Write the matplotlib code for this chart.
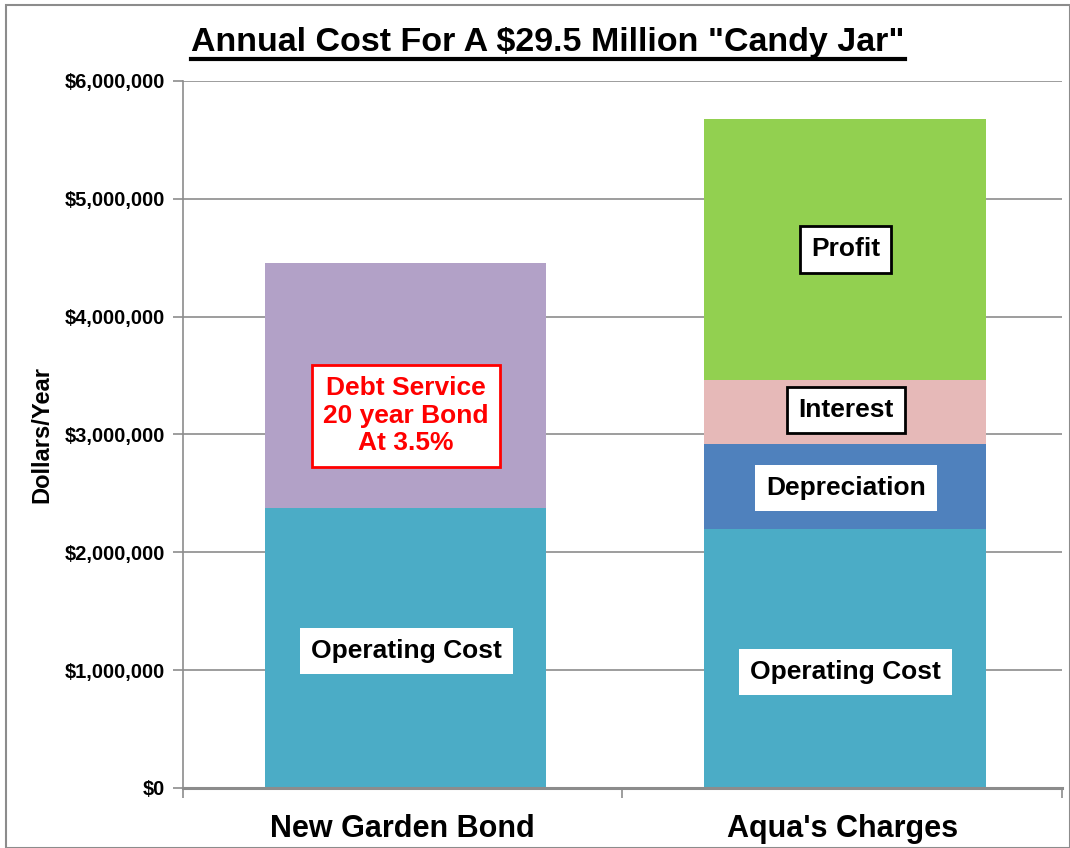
import matplotlib.pyplot as plt
import matplotlib.ticker as mticker
from matplotlib.lines import Line2D
from matplotlib.patches import Rectangle

plt.rcParams['font.family'] = ['Liberation Sans', 'DejaVu Sans']
plt.rcParams['font.weight'] = 'bold'

categories = ["New Garden Bond", "Aqua's Charges"]
operating = [2375000, 2195000]
debt_service = [2080000, 0]
depreciation = [0, 720000]
interest = [0, 545000]
profit = [0, 2215000]

colors = {'op': '#4BACC6', 'debt': '#B2A1C7', 'dep': '#4F81BD',
          'int': '#E6B9B8', 'prof': '#92D050'}

fig = plt.figure(figsize=(10.7, 8.48), dpi=100)
ax = fig.add_axes([0.171, 0.0708, 0.8215, 0.8337])

x = [0, 1]
w = 0.64
b = [0, 0]
for vals, c in [(operating, colors['op']), (debt_service, colors['debt']),
                (depreciation, colors['dep']), (interest, colors['int']),
                (profit, colors['prof'])]:
    ax.bar([xi + 0.006 for xi in x], vals, w, bottom=b, color=c, zorder=2)
    b = [bi + vi for bi, vi in zip(b, vals)]

ax.set_xlim(-0.5, 1.5)
ax.set_ylim(0, 6000000)
ax.yaxis.set_major_locator(mticker.MultipleLocator(1000000))
ax.yaxis.set_major_formatter(mticker.FuncFormatter(lambda v, p: f"${v:,.0f}"))
ax.grid(axis='y', color='#8c8c8c', lw=1.2, zorder=0)
ax.set_xticks([0, 1])
ax.set_xticklabels(categories, fontsize=22, fontweight='bold')
ax.set_xticks([-0.5, 0.5, 1.5], minor=True)
ax.tick_params(axis='x', which='major', length=0, pad=19)
ax.tick_params(axis='x', which='minor', length=7, color='#8c8c8c', width=1.2)
ax.tick_params(axis='y', length=7, color='#8c8c8c', width=1.2, labelsize=14.5, pad=6)
for s in ['top', 'right']:
    ax.spines[s].set_visible(False)
ax.spines['left'].set_color('#8c8c8c')
ax.spines['left'].set_linewidth(1.2)
ax.spines['bottom'].set_color('#8c8c8c')
ax.spines['bottom'].set_linewidth(2.2)
ax.set_ylabel('Dollars/Year', fontsize=17, fontweight='bold', labelpad=8)

# segment labels
labels = [
    (0, 1160000, 'Operating Cost', 'black', 'none'),
    (1, 985000, 'Operating Cost', 'black', 'none'),
    (1, 2545000, 'Depreciation', 'black', 'none'),
    (1, 3210000, 'Interest', 'black', 'black'),
    (1, 4570000, 'Profit', 'black', 'black'),
    (0, 3160000, 'Debt Service\n20 year Bond\nAt 3.5%', 'red', 'red'),
]
for xi, yi, t, tc, ec in labels:
    ax.text(xi + 0.008, yi, t, ha='center', va='center', fontsize=19,
            fontweight='bold', color=tc, zorder=5,
            bbox=dict(boxstyle='square,pad=0.42', fc='white',
                      ec=ec, lw=2 if ec != 'none' else 0))

title = fig.text(0.512, 0.95, 'Annual Cost For A $29.5 Million "Candy Jar"',
                 ha='center', va='center', fontsize=24.5, fontweight='bold')
fig.canvas.draw()
bb = title.get_window_extent()
W, H = fig.bbox.width, fig.bbox.height
yl = (bb.y0 - 1) / H
fig.add_artist(Line2D([bb.x0 / W, bb.x1 / W], [yl, yl], color='black', lw=3))

fig.add_artist(Rectangle((0.006, 0.0), 0.994, 0.994, transform=fig.transFigure,
                         fill=False, ec='#8c8c8c', lw=1.5))

fig.savefig('out.png', dpi=100)
